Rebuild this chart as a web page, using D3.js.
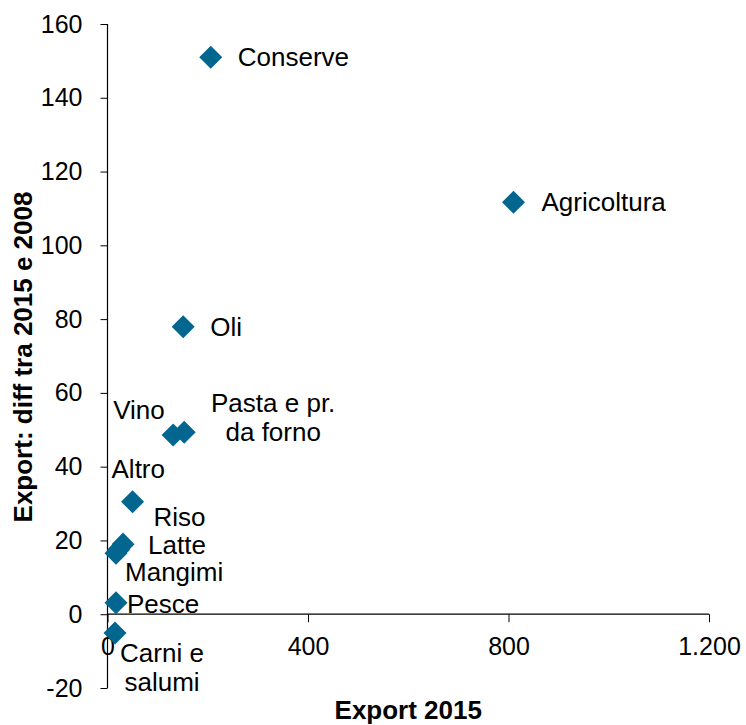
<!DOCTYPE html>
<html>
<head>
<meta charset="utf-8">
<script src="https://cdn.jsdelivr.net/npm/d3@7"></script>
<style>
  html, body { margin: 0; padding: 0; background: #fff; }
  svg { display: block; font-family: "Liberation Sans", Arial, Helvetica, sans-serif; }
</style>
</head>
<body>
<svg id="chart" width="746" height="725"></svg>
<script>
// ---- Data -------------------------------------------------------
const SECTORS   = ['Conserve', 'Agricoltura', 'Oli', 'Pasta e pr. da forno', 'Vino', 'Altro',
                   'Riso', 'Latte', 'Mangimi', 'Pesce', 'Carni e salumi'];
const EXPORT_15 = [206, 810, 151, 153, 131, 22, 50, 31, 17, 17, 15];
const DIFF_0815 = [151, 111.7, 77.9, 49.3, 48.6, 17.5, 30.5, 19, 16.5, 3.1, -5.1];

const X_TICKS = [0, 400, 800, 1200];
const Y_TICKS = [-20, 0, 20, 40, 60, 80, 100, 120, 140, 160];

// ---- Label layout (pixel offsets from the marker) ----------------
const LABEL_LINES  = [['Conserve'], ['Agricoltura'], ['Oli'], ['Pasta e pr.', 'da forno'], ['Vino'], ['Altro'],
                      ['Riso'], ['Latte'], ['Mangimi'], ['Pesce'], ['Carni e', 'salumi']];
const LABEL_DX     = [27, 28, 27, 89, -60, -7, 21, 25, 9, 11, 47];
const LABEL_DY     = [0, 0, 0, -29, -25, -81, 15, 1, 19, 1, 20];
const LABEL_ANCHOR = ['start', 'start', 'start', 'middle', 'start', 'start',
                      'start', 'start', 'start', 'start', 'middle'];

const it = d3.formatLocale({ decimal: ',', thousands: '.', grouping: [3], currency: ['€', ''], minus: '-' });

const svg = d3.select('#chart');
const FONT = 26;
const COLOR = '#03668f';

const x = d3.scaleLinear().domain([0, 1200]).range([107.5, 709]);
const y = d3.scaleLinear().domain([-20, 160]).range([688, 24]);

// ---- Axes -------------------------------------------------------
const yAxis = svg.append('g')
  .attr('transform', `translate(${x(0)},0)`)
  .call(d3.axisLeft(y).tickValues(Y_TICKS).tickSize(7).tickPadding(18).tickFormat(it.format('d')));

const xAxis = svg.append('g')
  .attr('transform', `translate(0,${y(0)})`)
  .call(d3.axisBottom(x).tickValues(X_TICKS).tickSize(8).tickPadding(15).tickFormat(it.format(',d')));

[yAxis, xAxis].forEach(g => {
  g.select('.domain').attr('stroke', '#000').attr('stroke-width', 1.2);
  g.selectAll('.tick line').attr('stroke', '#000');
  g.selectAll('.tick text').attr('font-size', 25).attr('fill', '#000')
    .attr('font-family', '"Liberation Sans", Arial, sans-serif');
});
xAxis.select('.domain').attr('d', `M${x(0)},0H${x(1200)}`);
yAxis.select('.domain').attr('d', `M0,${y(160)}V${y(-20)}`);

// ---- Axis titles -----------------------------------------------
svg.append('text')
  .attr('x', (x(0) + x(1200)) / 2)
  .attr('y', 719)
  .attr('text-anchor', 'middle')
  .attr('font-size', 26)
  .attr('font-weight', 'bold')
  .text('Export 2015');

svg.append('text')
  .attr('transform', `translate(32,${(y(160) + y(-20)) / 2 + 1}) rotate(-90)`)
  .attr('text-anchor', 'middle')
  .attr('font-size', 26)
  .attr('font-weight', 'bold')
  .text('Export: diff tra 2015 e 2008');

// ---- Markers ----------------------------------------------------
const idx = d3.range(SECTORS.length);
const diamond = d3.symbol().type(d3.symbolSquare).size(265);

svg.append('g').selectAll('path')
  .data(idx)
  .join('path')
  .attr('d', diamond)
  .attr('transform', i => `translate(${x(EXPORT_15[i])},${y(DIFF_0815[i])}) rotate(45)`)
  .attr('fill', COLOR);

// ---- Labels -----------------------------------------------------
svg.append('g').selectAll('text')
  .data(idx)
  .join('text')
  .attr('font-size', FONT)
  .attr('fill', '#000')
  .attr('text-anchor', i => LABEL_ANCHOR[i])
  .each(function (i) {
    const t = d3.select(this);
    const px = x(EXPORT_15[i]) + LABEL_DX[i];
    const py = y(DIFF_0815[i]) + LABEL_DY[i];
    LABEL_LINES[i].forEach((line, k) => {
      t.append('tspan')
        .attr('x', px)
        .attr('y', py + k * 29)
        .attr('dy', '0.35em')
        .text(line);
    });
  });
</script>
</body>
</html>
